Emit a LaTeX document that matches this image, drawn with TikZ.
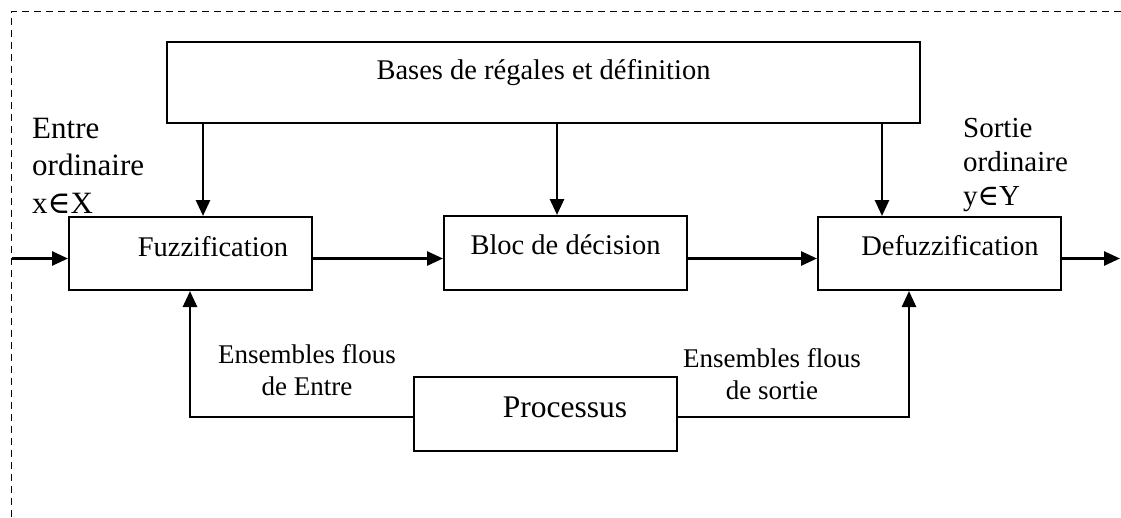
\documentclass[tikz,border=0pt]{standalone}
\usepackage{fontspec}
\setmainfont{Liberation Serif}
\newfontfamily\symserif{DejaVu Serif}
\usetikzlibrary{arrows.meta,calc}
\newcommand{\elemof}{{\symserif ∈}}
\begin{document}
\begin{tikzpicture}[x=1pt,y=-1pt,
  box/.style={draw, line width=2pt, inner sep=0pt, text height=20pt, text depth=#1,
    font=\fontsize{28.5pt}{34pt}\selectfont},
  arr/.style={line width=2.7pt, -{Triangle[length=16pt,width=14pt]}},
  frame/.style={line width=1.5pt, dash pattern=on 7pt off 5pt},
  lbl/.style={inner sep=0pt, align=left, anchor=base west},
  flowtext/.style={inner sep=0pt, align=center, anchor=base, font=\fontsize{27pt}{32pt}\selectfont}]
\useasboundingbox (0,0) rectangle (1121,517);

% outer dashed frame
\draw[frame] (11.5,517) -- (11.5,11.5) -- (1121,11.5);

% blocks
\node[box=27pt, minimum width=753pt, minimum height=81pt] (bases) at (543.5,82.5) {Bases de régales et définition};
\node[box=15pt, minimum width=243pt, minimum height=73pt] (fuzz) at (190.5,253.5) {\hspace*{45pt}Fuzzification};
\node[box=18pt, minimum width=243pt, minimum height=74pt] (bloc) at (565.5,253) {Bloc de décision};
\node[box=17pt, minimum width=243pt, minimum height=73pt] (defuzz) at (939.5,253.5) {\hspace*{21pt}Defuzzification};
\node[box=14pt, minimum width=263pt, minimum height=74pt, font=\fontsize{31.5pt}{36pt}\selectfont] (proc) at (545.5,414) {\hspace*{39pt}Processus};

% side labels (anchored on the baseline of their last line)
\node[lbl, font=\fontsize{31pt}{37.5pt}\selectfont] (inlbl) at (32,213) {Entre\\ordinaire\\x\elemof X};
\node[lbl, font=\fontsize{29pt}{34pt}\selectfont] (outlbl) at (963,205) {Sortie\\ordinaire\\y\elemof Y};
\node[flowtext] (capL) at (307,395) {Ensembles flous\\de Entre};
\node[flowtext] (capR) at (772,399) {Ensembles flous\\de sortie};

% reference coordinates for the connector positions
\coordinate (flow) at (0,258.5);
\coordinate (in) at (11.5,258.5);
\coordinate (out) at (1120,258.5);
\coordinate (t1) at (203,0);
\coordinate (t2) at (557,0);
\coordinate (t3) at (882,0);
\coordinate (fbL) at (190,417);
\coordinate (fbR) at (909,417);

% rule base feeding the three stages
\draw[arr] (t1 |- bases.south) -- (t1 |- fuzz.north);
\draw[arr] (t2 |- bases.south) -- (t2 |- bloc.north);
\draw[arr] (t3 |- bases.south) -- (t3 |- defuzz.north);

% main signal chain
\draw[arr] (in) -- (fuzz.west |- flow);
\draw[arr] (fuzz.east |- flow) -- (bloc.west |- flow);
\draw[arr] (bloc.east |- flow) -- (defuzz.west |- flow);
\draw[arr] (defuzz.east |- flow) -- (out);

% process feedback to fuzzification and defuzzification
\draw[arr] (proc.west |- fbL) -- (fbL) -- (fbL |- fuzz.south);
\draw[arr] (proc.east |- fbR) -- (fbR) -- (fbR |- defuzz.south);
\end{tikzpicture}
\end{document}
